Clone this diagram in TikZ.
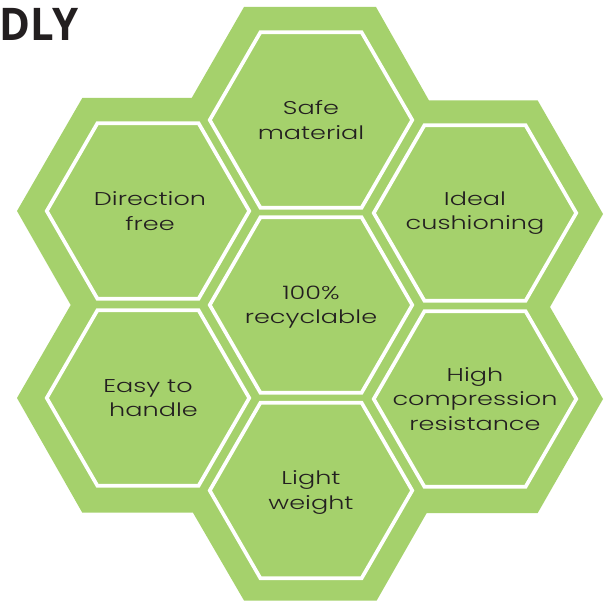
\documentclass[tikz,border=0pt]{standalone}
\usepackage{fontspec}
\usetikzlibrary{shapes.geometric}
\setmainfont{Open Sans}
\newfontfamily\hexfont[FakeStretch=1.38]{Poppins Light}
\newfontfamily\headfont[FakeStretch=0.93]{Open Sans Bold}
\definecolor{leaf}{HTML}{A5D16C}
\definecolor{ink}{HTML}{231F20}
\tikzset{
  x=1pt,y=-1pt,
  cell/.style={regular polygon,regular polygon sides=6,minimum size=202.5pt,inner sep=0pt,outer sep=0pt,
    draw=white,line width=3.7pt,fill=leaf},
  caption/.style={text=ink,align=center,inner sep=0pt,
    font=\hexfont\fontsize{18.5}{24.5}\selectfont},
  blob/.style={fill=leaf,draw=none},
  heading/.style={font=\headfont\fontsize{45}{45}\selectfont,text=ink,inner sep=0pt}
}
\begin{document}
\begin{tikzpicture}
\useasboundingbox (0,0) rectangle (610,601);
\fill[white] (0,0) rectangle (610,601);
\fill[blob] (244,7) -- (376,7) -- (429,100.5) -- (537.7,100.5) -- (603,214) -- (550,307) -- (603,399)
  -- (537.7,513) -- (426.7,513) -- (376.7,600.5) -- (244,600.5) -- (193,512.7) -- (82.3,512.7) -- (17,398)
  -- (70.7,305) -- (17,211) -- (82.3,98) -- (191.7,98) -- cycle;
\node[heading,anchor=base east] (title) at (79,41) {DLY};
\node[cell] (safe) at (311,120) {};
\node[cell] (ideal) at (475,213) {};
\node[cell] (direction) at (148,211) {};
\node[cell] (center) at (311,305) {};
\node[cell] (easy) at (148,398) {};
\node[cell] (high) at (475,399) {};
\node[cell] (light) at (311,490.5) {};
\node[caption] (safetext) at (safe.center) {Safe\\material};
\node[caption] (idealtext) at (ideal.center) {Ideal\\cushioning};
\node[caption] (directiontext) at ([xshift=2pt]direction.center) {Direction\\free};
\node[caption] (centertext) at ([yshift=-2pt]center.center) {100\%\\recyclable};
\node[caption] (easytext) at (easy.center) {Easy to\\\hspace*{11pt}handle};
\node[caption] (hightext) at (high.center) {High\\compression\\resistance};
\node[caption] (lighttext) at ([yshift=-2pt]light.center) {Light\\weight};
\end{tikzpicture}
\end{document}
